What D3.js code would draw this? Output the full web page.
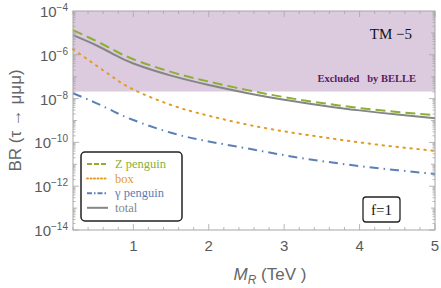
<!DOCTYPE html>
<html>
<head>
<meta charset="utf-8">
<script src="https://cdn.jsdelivr.net/npm/d3@7"></script>
<style>
  body { margin: 0; background: #fff; }
  svg { display: block; }
</style>
</head>
<body>
<div id="chart"></div>
<script>
// values (BR vs M_R in TeV)
var massTeV = [0.2, 0.5, 0.75, 1, 1.5, 2, 2.5, 3, 3.5, 4, 4.5, 5]
var zPenguin = [1.35e-5, 4.4e-6, 1.58e-6, 6.3e-7, 1.66e-7, 6.0e-8, 2.5e-8, 1.17e-8, 6.3e-9, 3.7e-9, 2.45e-9, 1.78e-9]
var boxDiagram = [1.8e-6, 3.4e-7, 8.5e-8, 2.6e-8, 5.1e-9, 1.65e-9, 6.6e-10, 3.2e-10, 1.74e-10, 1.0e-10, 6.2e-11, 4.1e-11]
var gammaPenguin = [1.75e-8, 6.4e-9, 2.5e-9, 1.05e-9, 2.75e-10, 1.1e-10, 5.4e-11, 2.6e-11, 1.4e-11, 8.3e-12, 5.4e-12, 3.6e-12]
var total = [7.9e-6, 2.8e-6, 1.0e-6, 4.0e-7, 1.12e-7, 4.2e-8, 1.82e-8, 8.9e-9, 4.9e-9, 2.9e-9, 1.86e-9, 1.26e-9]
var belleLimit = 2.1e-8
var xTicks = [1, 2, 3, 4, 5]
var yTickExps = [-14, -12, -10, -8, -6, -4]

var width = 441, height = 288
var margin = {left: 73, right: 6, top: 11, bottom: 58}

var svg = d3.select("#chart").append("svg")
  .attr("width", width)
  .attr("height", height)

var x = d3.scaleLinear().domain([0.2, 5]).range([margin.left, width - margin.right])
var y = d3.scaleLog().domain([1e-14, 1e-4]).range([height - margin.bottom, margin.top])

// excluded region
svg.append("rect")
  .attr("x", x(0.2))
  .attr("y", y(1e-4))
  .attr("width", x(5) - x(0.2))
  .attr("height", y(belleLimit) - y(1e-4))
  .attr("fill", "#dccbdf")

var series = [
  {name: "Z penguin", values: zPenguin, color: "#8db033", dash: "10,5", legendDash: "5,2"},
  {name: "box", values: boxDiagram, color: "#e39b25", dash: "1.5,5.5", legendDash: "1,2.5", cap: "round"},
  {name: "\u03B3 penguin", values: gammaPenguin, color: "#5b80b6", dash: "9,5,1.5,5", legendDash: "5,2,1.5,2"},
  {name: "total", values: total, color: "#858585", dash: null, legendDash: null}
]

var line = d3.line()
  .x(function(d) { return x(d[0]) })
  .y(function(d) { return y(d[1]) })
  .curve(d3.curveNatural)

var plot = svg.append("g")
series.forEach(function(s) {
  plot.append("path")
    .datum(d3.zip(massTeV, s.values))
    .attr("d", line)
    .attr("fill", "none")
    .attr("stroke", s.color)
    .attr("stroke-width", 2)
    .attr("stroke-linecap", s.cap || "butt")
    .attr("stroke-dasharray", s.dash)
})

// frame and ticks
var frameColor = "#a6a6a6"
svg.append("rect")
  .attr("x", x(0.2)).attr("y", y(1e-4))
  .attr("width", x(5) - x(0.2)).attr("height", y(1e-14) - y(1e-4))
  .attr("fill", "none").attr("stroke", frameColor).attr("stroke-width", 1)

var ticks = svg.append("g").attr("stroke", frameColor).attr("stroke-width", 0.8)
d3.range(0.2, 5.001, 0.2).forEach(function(v) {
  var major = Math.abs(v - Math.round(v)) < 1e-6
  var len = major ? 6 : 3
  ticks.append("line").attr("x1", x(v)).attr("x2", x(v)).attr("y1", y(1e-14)).attr("y2", y(1e-14) - len)
  ticks.append("line").attr("x1", x(v)).attr("x2", x(v)).attr("y1", y(1e-4)).attr("y2", y(1e-4) + len)
})
for (var e = -14; e < -4; e++) {
  for (var m = 1; m < 10; m++) {
    var val = m * Math.pow(10, e)
    var len = m == 1 ? (e % 2 == 0 ? 6 : 4) : 2.5
    ticks.append("line").attr("x1", x(0.2)).attr("x2", x(0.2) + len).attr("y1", y(val)).attr("y2", y(val))
    ticks.append("line").attr("x1", x(5)).attr("x2", x(5) - len).attr("y1", y(val)).attr("y2", y(val))
  }
}

var labelColor = "#5a5a5a"
var font = "'Liberation Sans', Arial, sans-serif"

svg.append("g").selectAll("text")
  .data(xTicks).enter().append("text")
  .attr("x", function(d) { return x(d) })
  .attr("y", 251)
  .attr("text-anchor", "middle")
  .attr("font-family", font).attr("font-size", 15)
  .attr("fill", labelColor)
  .text(function(d) { return d })

var yl = svg.append("g").selectAll("text")
  .data(yTickExps).enter().append("text")
  .attr("x", 68)
  .attr("y", function(d) { return y(Math.pow(10, d)) + 6 })
  .attr("text-anchor", "end")
  .attr("font-family", font).attr("font-size", 15)
  .attr("fill", labelColor)
yl.append("tspan").text("10")
yl.append("tspan").attr("dy", -6).attr("font-size", 10)
  .text(function(d) { return "\u2212" + Math.abs(d) })

// axis titles
svg.append("text")
  .attr("transform", "translate(21," + ((y(1e-4) + y(1e-14)) / 2) + ") rotate(-90)")
  .attr("text-anchor", "middle")
  .attr("font-family", font).attr("font-size", 17)
  .attr("fill", "#666")
  .text("BR (\u03C4 \u2192 \u03BC\u03BC\u03BC)")

var xt = svg.append("text")
  .attr("x", (x(0.2) + x(5)) / 2 + 16)
  .attr("y", 280)
  .attr("text-anchor", "middle")
  .attr("font-family", font).attr("font-size", 17)
  .attr("fill", "#666")
xt.append("tspan").attr("font-style", "italic").text("M")
xt.append("tspan").attr("font-style", "italic").attr("font-size", 12).attr("dy", 4).text("R")
xt.append("tspan").attr("dy", -4).text(" (TeV )")

// annotations
var serif = "'Liberation Serif', 'Times New Roman', serif"
svg.append("text")
  .attr("x", 412).attr("y", 39)
  .attr("text-anchor", "end")
  .attr("font-family", serif).attr("font-size", 15)
  .attr("fill", "#111")
  .text("TM \u22125")

svg.append("text")
  .attr("x", 416).attr("y", 82)
  .attr("text-anchor", "end")
  .attr("font-family", serif).attr("font-size", 10.5).attr("font-weight", "bold")
  .attr("fill", "#5e1a60")
  .attr("xml:space", "preserve")
  .text("Excluded   by BELLE")

// legend
var lg = svg.append("g")
lg.append("rect")
  .attr("x", 81).attr("y", 152).attr("width", 101).attr("height", 69)
  .attr("rx", 4).attr("fill", "#fff").attr("stroke", "#222").attr("stroke-width", 1.5)
series.forEach(function(s, i) {
  var yy = 164 + i * 14.6
  lg.append("line")
    .attr("x1", 87).attr("x2", 108).attr("y1", yy).attr("y2", yy)
    .attr("stroke", s.color).attr("stroke-width", 2)
    .attr("stroke-linecap", s.cap || "butt")
    .attr("stroke-dasharray", s.legendDash)
  lg.append("text")
    .attr("x", 115).attr("y", yy + 4)
    .attr("font-family", serif).attr("font-size", 12.5)
    .attr("fill", s.color)
    .text(s.name)
})

// f=1 box
svg.append("rect")
  .attr("x", 363).attr("y", 197).attr("width", 37).attr("height", 25)
  .attr("rx", 3).attr("fill", "#fff").attr("stroke", "#222").attr("stroke-width", 1.3)
svg.append("text")
  .attr("x", 381.5).attr("y", 215)
  .attr("text-anchor", "middle")
  .attr("font-family", serif).attr("font-size", 15)
  .attr("fill", "#111")
  .text("f=1")
</script>
</body>
</html>
